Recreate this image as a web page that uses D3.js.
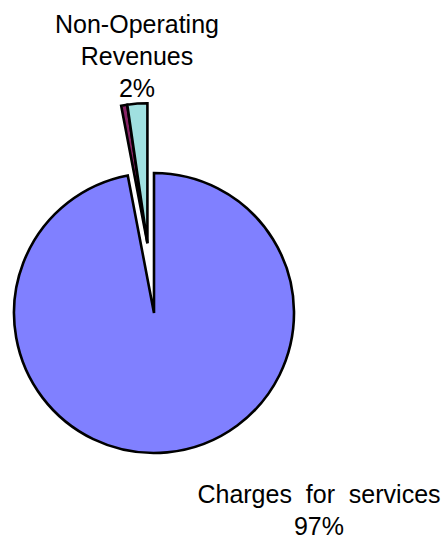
<!DOCTYPE html>
<html>
<head>
<meta charset="utf-8">
<script src="https://cdn.jsdelivr.net/npm/d3@7"></script>
<style>
  body { margin: 0; background: #fff; }
  svg { display: block; }
</style>
</head>
<body>
<div id="chart"></div>
<script>
// slice data, clockwise from 12 o'clock
const categories = ["Charges for services", "Other", "Non-Operating Revenues"];
const values = [97.0, 0.7, 2.3];
const colors = ["#8080FF", "#882466", "#A0E0E0"];
const exploded = [false, true, true];

const width = 446, height = 540;
const cx = 154, cy = 313, radius = 140, explode = 70;

const svg = d3.select("#chart")
    .append("svg")
    .attr("width", width)
    .attr("height", height);

const pie = d3.pie().sort(null).value(d => d)(values);
const arc = d3.arc().innerRadius(0).outerRadius(radius);

// the small slices are pulled out together, along their shared bisector
const pulled = pie.filter((d, i) => exploded[i]);
const midA = (d3.min(pulled, d => d.startAngle) + d3.max(pulled, d => d.endAngle)) / 2;
const dx = Math.sin(midA) * explode, dy = -Math.cos(midA) * explode;

const g = svg.append("g").attr("transform", `translate(${cx},${cy})`);

g.selectAll("path.slice")
    .data(pie)
    .enter()
    .append("path")
    .attr("class", "slice")
    .attr("transform", (d, i) => exploded[i] ? `translate(${dx},${dy})` : null)
    .attr("d", arc)
    .style("fill", (d, i) => colors[i])
    .style("stroke", "#000")
    .style("stroke-width", 2.6)
    .style("stroke-linejoin", "miter");

// labels
function label(lines, x, y, lh) {
    const t = svg.append("text")
        .attr("text-anchor", "middle")
        .style("font-family", "Arial, 'Liberation Sans', sans-serif")
        .style("font-size", "25px")
        .style("fill", "#000");
    lines.forEach((s, i) => {
        t.append("tspan")
            .attr("x", x)
            .attr("y", y + i * lh)
            .style("white-space", "pre")
            .text(s);
    });
}

label(["Non-Operating", "Revenues", Math.round(values[2]) + "%"], 137, 33, 32);
label(["Charges  for  services", Math.round(values[0]) + "%"], 319, 503, 32);
</script>
</body>
</html>
